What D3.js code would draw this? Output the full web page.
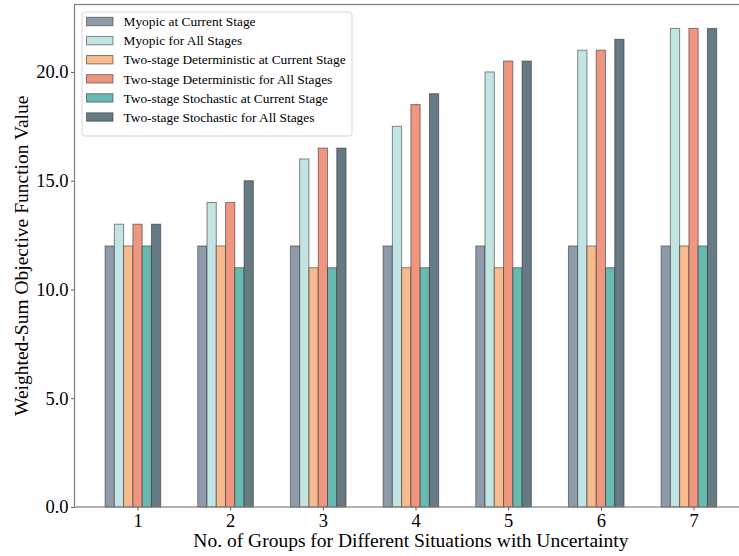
<!DOCTYPE html>
<html>
<head>
<meta charset="utf-8">
<script src="https://cdn.jsdelivr.net/npm/d3@7"></script>
<style>
  html, body { margin: 0; padding: 0; background: #fff; }
  svg { display: block; font-family: "Liberation Serif", "Times New Roman", serif; }
</style>
</head>
<body>
<svg id="chart" width="739" height="556"></svg>
<script>
// Group numbers along the x axis
const groups = [1, 2, 3, 4, 5, 6, 7];

// Series names (legend order) and their values per group
const seriesNames = [
  "Myopic at Current Stage",
  "Myopic for All Stages",
  "Two-stage Deterministic at Current Stage",
  "Two-stage Deterministic for All Stages",
  "Two-stage Stochastic at Current Stage",
  "Two-stage Stochastic for All Stages"
];
const myopicCurrent   = [12, 12, 12, 12, 12, 12, 12];
const myopicAll       = [13, 14, 16, 17.5, 20, 21, 22];
const detCurrent      = [12, 12, 11, 11, 11, 12, 12];
const detAll          = [13, 14, 16.5, 18.5, 20.5, 21, 22];
const stochCurrent    = [12, 11, 11, 11, 11, 11, 12];
const stochAll        = [13, 15, 16.5, 19, 20.5, 21.5, 22];
const seriesValues = [myopicCurrent, myopicAll, detCurrent, detAll, stochCurrent, stochAll];

const seriesColors = ["#8f9bab", "#c2e5e4", "#f7bb8d", "#ef9681", "#68b9b0", "#657a82"];

const yTicks = [0, 5, 10, 15, 20];

const svg = d3.select("#chart");
const plot = { left: 74.5, top: 4.5, bottom: 507 };

const barW = 0.1;
const xMin = 1 - 3.5 * barW, xMax = 7 + 2.5 * barW;
const xPad = (xMax - xMin) * 0.05;
const x = d3.scaleLinear()
  .domain([xMin - xPad, xMax + xPad])
  .range([plot.left, plot.left + 92.67 * ((xMax + xPad) - (xMin - xPad))]);

const yMaxData = d3.max(seriesValues.flat());
const y = d3.scaleLinear()
  .domain([0, yMaxData * 1.05])
  .range([plot.bottom, plot.top]);

const plotRight = x.range()[1];

// Bars: each series offset by whole bar widths from the group position
seriesValues.forEach((vals, i) => {
  svg.append("g")
    .selectAll("rect")
    .data(vals.map((v, j) => ({ g: groups[j], v })))
    .join("rect")
    .attr("x", d => x(d.g + (i - 3) * barW - barW / 2))
    .attr("width", x(barW) - x(0))
    .attr("y", d => y(d.v))
    .attr("height", d => y(0) - y(d.v))
    .attr("fill", seriesColors[i])
    .attr("stroke", "#2b2b2b")
    .attr("stroke-opacity", 0.55)
    .attr("stroke-width", 1);
});

// Axes
const xAxis = d3.axisBottom(x).tickValues(groups).tickFormat(d3.format("d")).tickSize(3.5).tickSizeOuter(0);
const yAxis = d3.axisLeft(y).tickValues(yTicks).tickFormat(d3.format(".1f")).tickSize(3.5).tickSizeOuter(0);

const gx = svg.append("g").attr("transform", `translate(0,${plot.bottom})`).call(xAxis);
const gy = svg.append("g").attr("transform", `translate(${plot.left},0)`).call(yAxis);
[gx, gy].forEach(g => {
  g.select(".domain").remove();
  g.selectAll(".tick line").attr("stroke", "#333").attr("stroke-width", 0.8);
  g.selectAll(".tick text").attr("font-size", 18.5).attr("fill", "#000")
    .style("font-family", "'Liberation Serif', serif");
});
gx.selectAll(".tick text").attr("dy", null).attr("y", 20);
gy.selectAll(".tick text").attr("x", -6);

// Frame
svg.append("rect")
  .attr("x", plot.left).attr("y", plot.top)
  .attr("width", plotRight - plot.left).attr("height", plot.bottom - plot.top)
  .attr("fill", "none").attr("stroke", "#7f7f7f").attr("stroke-width", 1.2);

// Axis titles
svg.append("text")
  .attr("x", (plot.left + plotRight) / 2).attr("y", 547)
  .attr("text-anchor", "middle").attr("font-size", 19.5)
  .text("No. of Groups for Different Situations with Uncertainty");

svg.append("text")
  .attr("transform", `translate(28,${(plot.top + plot.bottom) / 2}) rotate(-90)`)
  .attr("text-anchor", "middle").attr("font-size", 19.5)
  .text("Weighted-Sum Objective Function Value");

// Legend
const lg = svg.append("g").attr("transform", "translate(82,12)");
lg.append("rect")
  .attr("width", 270).attr("height", 124).attr("rx", 3)
  .attr("fill", "#fff").attr("fill-opacity", 0.8)
  .attr("stroke", "#d6d6d6").attr("stroke-width", 1);
seriesNames.forEach((name, i) => {
  const row = lg.append("g").attr("transform", `translate(0,${9.5 + i * 19.1})`);
  row.append("rect")
    .attr("x", 4.5).attr("y", -4.2).attr("width", 26.5).attr("height", 8.4)
    .attr("fill", seriesColors[i]).attr("stroke", "#2b2b2b").attr("stroke-opacity", 0.55);
  row.append("text")
    .attr("x", 41.5).attr("y", 0).attr("dy", "0.35em")
    .attr("font-size", 13.4).text(name);
});
</script>
</body>
</html>
